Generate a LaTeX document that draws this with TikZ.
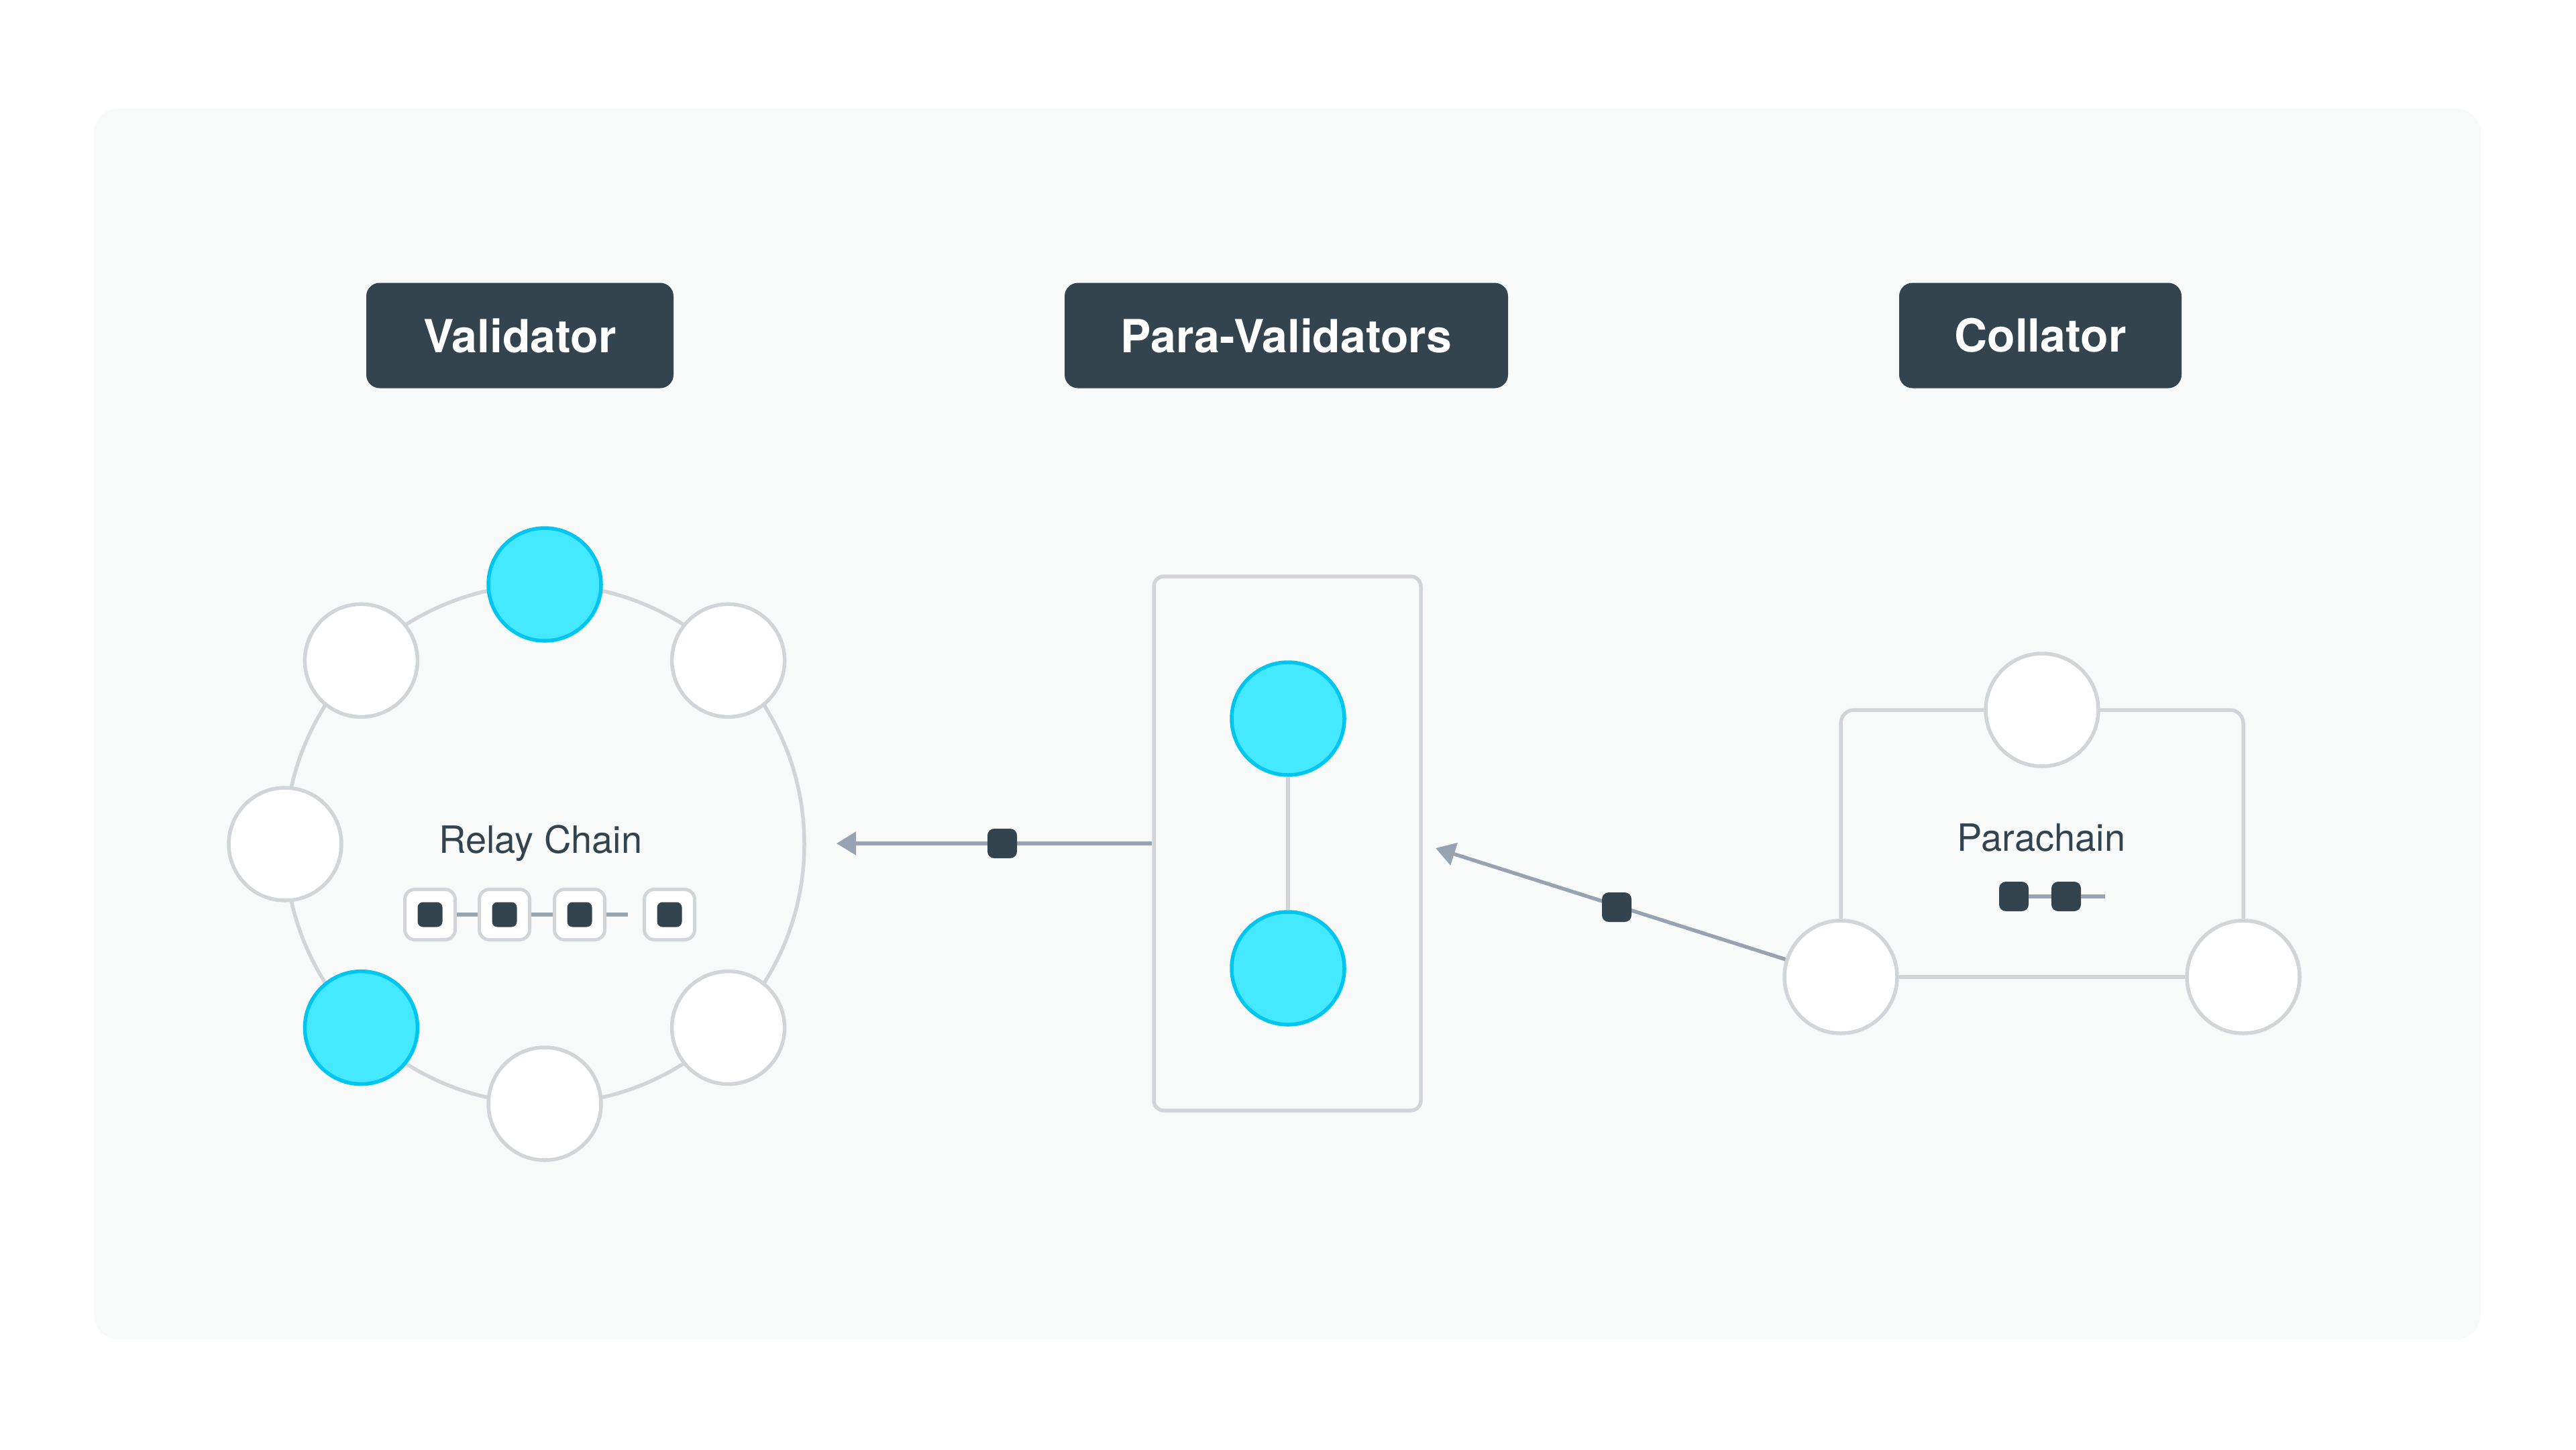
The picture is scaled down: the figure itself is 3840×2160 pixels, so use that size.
\documentclass[tikz,border=0pt]{standalone}
\usepackage{fontspec}
\setmainfont{TeX Gyre Heros}
\usetikzlibrary{arrows.meta}
\definecolor{panel}{HTML}{F8FAFA}
\definecolor{darkc}{HTML}{33444F}
\definecolor{gstroke}{HTML}{D2D5D8}
\definecolor{arrc}{HTML}{98A3B2}
\definecolor{cyanfill}{HTML}{44E9FF}
\definecolor{cyanline}{HTML}{00C6EF}
\tikzset{
  hdr/.style={fill=darkc, text=white, rounded corners=20pt, inner sep=0pt,
    font=\fontsize{68}{80}\selectfont\bfseries},
  wnode/.style={circle, draw=gstroke, fill=white, line width=5.5pt, minimum size=168pt, inner sep=0pt},
  cnode/.style={circle, draw=cyanline, fill=cyanfill, line width=5.5pt, minimum size=168pt, inner sep=0pt},
  gline/.style={draw=gstroke, line width=5.5pt},
  aline/.style={draw=arrc, line width=5.5pt},
  arr/.style={aline, -{Triangle[length=29pt,width=34pt]}},
  blockbox/.style={draw=gstroke, fill=white, line width=5pt, rounded corners=15pt, minimum size=75pt, inner sep=0pt},
  dsq/.style={fill=darkc, rounded corners=8pt, minimum size=37pt, inner sep=0pt},
  msq/.style={fill=darkc, rounded corners=10pt, minimum size=44pt, inner sep=0pt},
  lbl/.style={text=darkc, font=\fontsize{56}{66}\selectfont, inner sep=0pt, anchor=base}
}
\begin{document}
\begin{tikzpicture}[x=1pt,y=-1pt]
\useasboundingbox (0,0) rectangle (3840,2160);
\fill[white] (0,0) rectangle (3840,2160);
\fill[panel, rounded corners=37pt] (140,162) rectangle (3698,1996);

% headers
\node[hdr, minimum width=458pt, minimum height=157pt] (hval) at (775,500) {Validator};
\node[hdr, minimum width=661pt, minimum height=157pt] (hpv) at (1917.5,500) {Para-Validators};
\node[hdr, minimum width=421pt, minimum height=157pt] (hcol) at (3041.5,500) {Collator};

% relay chain ring
\draw[gline] (812,1258) circle[radius=387pt];
\node[cnode] (r90) at (812,871) {};
\node[wnode] (r45) at (1085.6,984.4) {};
\node[wnode] (r135) at (538.4,984.4) {};
\node[wnode] (r180) at (425,1258) {};
\node[cnode] (r225) at (538.4,1531.6) {};
\node[wnode] (r270) at (812,1645) {};
\node[wnode] (r315) at (1085.6,1531.6) {};
\node[lbl] (rlabel) at (806,1271) {Relay Chain};

% relay blocks
\node[blockbox] (b1) at (641,1363) {};
\node[blockbox] (b2) at (752,1363) {};
\node[blockbox] (b3) at (864,1363) {};
\node[blockbox] (b4) at (998,1363) {};
\coordinate (bstub) at (936,1363);
\draw[aline] (b1.east) -- (b2.west);
\draw[aline] (b2.east) -- (b3.west);
\draw[aline] (b3.east) -- (bstub);
\node[dsq] (d1) at (b1) {};
\node[dsq] (d2) at (b2) {};
\node[dsq] (d3) at (b3) {};
\node[dsq] (d4) at (b4) {};

% para-validators
\node[gline, rounded corners=15pt, minimum width=398pt, minimum height=796pt, inner sep=0pt] (pvbox) at (1919,1257) {};
\node[cnode] (pv1) at (1920,1071) {};
\node[cnode] (pv2) at (1920,1443) {};
\draw[gline] (pv1) -- (pv2);

% arrow to relay chain
\coordinate (tip1) at (1247,1257);
\draw[arr] (pvbox.west) -- (tip1);
\node[msq] (m1) at (1494,1257) {};

% parachain
\node[wnode] (pct) at (3044,1058) {};
\node[wnode] (pcl) at (2744,1456) {};
\node[wnode] (pcr) at (3344,1456) {};
\draw[gline, rounded corners=20pt] (pcl.north) -- (2744,1058) -- (pct.west);
\draw[gline, rounded corners=20pt] (pct.east) -- (3344,1058) -- (pcr.north);
\draw[gline] (pcl.east) -- (pcr.west);
\node[lbl] (plabel) at (3043,1268) {Parachain};
\node[msq] (p1) at (3002,1336) {};
\node[msq] (p2) at (3080,1336) {};
\coordinate (pstub) at (3138,1336);
\draw[aline] (p1.east) -- (p2.west);
\draw[aline] (p2.east) -- (pstub);

% arrow from collator to para-validators
\coordinate (tip2) at (2140,1264);
\draw[arr] (pcl) -- (tip2);
\node[msq] (m2) at (2410,1352) {};
\end{tikzpicture}
\end{document}
